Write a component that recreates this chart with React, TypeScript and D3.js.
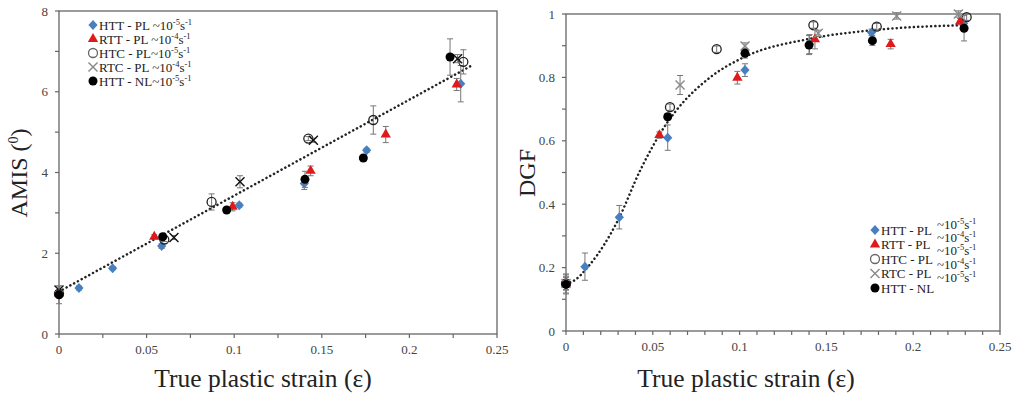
import React from "react";
import * as d3 from "d3";

// ---------- data: left panel (AMIS) ----------
const leftHTT_PL = [[0, 1.0, 0.08], [0.0114, 1.14, 0.05], [0.0306, 1.63, 0.04], [0.0586, 2.18, 0.06], [0.1029, 3.19, 0.05], [0.140, 3.73, 0.15], [0.1756, 4.55, 0.05], [0.2293, 6.20, 0.45]];
const leftRTT_PL = [[0, 1.0, 0.05], [0.0544, 2.41, 0.05], [0.0991, 3.15, 0.1], [0.1436, 4.04, 0.12], [0.1865, 4.94, 0.2], [0.227, 6.18, 0.15]];
const leftHTC_PL = [[0, 1.0, 0.05], [0.0601, 2.34, 0.05], [0.0871, 3.27, 0.2], [0.1423, 4.84, 0.05], [0.1794, 5.30, 0.35], [0.2308, 6.74, 0.3]];
const leftRTC_PL = [[0, 1.09, 0.1], [0.0656, 2.39, 0.05], [0.1033, 3.77, 0.15], [0.1452, 4.80, 0.05], [0.2275, 6.82, 0.1]];
const leftHTT_NL = [[0, 0.97, 0.22], [0.0592, 2.41, 0.05], [0.0957, 3.07, 0.05], [0.1404, 3.83, 0.2], [0.1737, 4.36, 0.05], [0.2232, 6.86, 0.45]];
const leftFitX = [0, 0.236];
const leftFitY = [1.05, 6.66];
const leftYTicks = [0, 2, 4, 6, 8];
const leftYMinor = [1, 3, 5, 7];
const leftXTicks = [0, 0.05, 0.1, 0.15, 0.2, 0.25];
const leftXMinor = [0.025, 0.075, 0.125, 0.175, 0.225];

// ---------- data: right panel (DGF) ----------
const rightHTT_PL = [[0, 0.15, 0.03], [0.0109, 0.203, 0.043], [0.0307, 0.359, 0.037], [0.0586, 0.61, 0.04], [0.1031, 0.823, 0.02], [0.1403, 0.905, 0.03], [0.176, 0.942, 0.01], [0.229, 0.97, 0.01]];
const rightRTT_PL = [[0, 0.15, 0.02], [0.0538, 0.618, 0.01], [0.0987, 0.799, 0.02], [0.1434, 0.92, 0.03], [0.187, 0.905, 0.015], [0.227, 0.976, 0.01]];
const rightHTC_PL = [[0, 0.15, 0.02], [0.0599, 0.706, 0.01], [0.0868, 0.889, 0.01], [0.1425, 0.965, 0.01], [0.179, 0.96, 0.01], [0.2308, 0.99, 0.01]];
const rightRTC_PL = [[0, 0.15, 0.02], [0.0657, 0.776, 0.03], [0.1031, 0.899, 0.01], [0.1453, 0.939, 0.01], [0.1905, 0.994, 0.01], [0.226, 1.0, 0.01]];
const rightHTT_NL = [[0, 0.147, 0.03], [0.0586, 0.676, 0.01], [0.1031, 0.876, 0.015], [0.14, 0.902, 0.03], [0.1765, 0.916, 0.015], [0.2293, 0.955, 0.04]];
const rightFitX = [0, 0.0033, 0.0138, 0.03, 0.0426, 0.058, 0.0637, 0.083, 0.103, 0.1406, 0.179, 0.23];
const rightFitY = [0.15, 0.155, 0.21, 0.35, 0.505, 0.655, 0.697, 0.80, 0.865, 0.922, 0.95, 0.965];
const rightYTicks = [0, 0.2, 0.4, 0.6, 0.8, 1];
const rightYMinor = [0.1, 0.3, 0.5, 0.7, 0.9];
const rightXTicks = [0, 0.05, 0.1, 0.15, 0.2, 0.25];
const rightXMinor = d3.range(1, 25).filter((i) => i % 5 !== 0).map((i) => i / 100);

const leftLegend = [
  { kind: "diamond", name: "HTT - PL ~10", e1: "-5", e2: "-1" },
  { kind: "triangle", name: "RTT - PL ~10", e1: "-4", e2: "-1" },
  { kind: "open", name: "HTC - PL~10", e1: "-5", e2: "-1" },
  { kind: "x", name: "RTC - PL ~10", e1: "-4", e2: "-1" },
  { kind: "dot", name: "HTT - NL~10", e1: "-5", e2: "-1" },
];
const rightLegendNames = ["HTT - PL", "RTT - PL", "HTC - PL", "RTC - PL", "HTT - NL"];
const rightLegendRates = ["-5", "-4", "-5", "-4", "-5"];

const BLUE = "#4a7fbf";
const RED = "#e0191b";
const FONT = "'Liberation Serif', 'Times New Roman', serif";

function Marker({ kind, x, y, xColor, openColor }: any) {
  if (kind === "diamond") {
    const w = 4.6, h = 5;
    return <path d={`M${x},${y - h}L${x + w},${y}L${x},${y + h}L${x - w},${y}Z`} fill={BLUE} />;
  }
  if (kind === "triangle") {
    return <path d={d3.symbol(d3.symbolTriangle, 46)() as string} transform={`translate(${x},${y})`} fill={RED} />;
  }
  if (kind === "open") {
    return <circle cx={x} cy={y} r={4.5} fill="none" stroke={openColor || "#222"} strokeWidth={1.3} />;
  }
  if (kind === "x") {
    const s = 4.5;
    return (
      <g stroke={xColor} strokeWidth={1.4}>
        <line x1={x - s} y1={y - s} x2={x + s} y2={y + s} />
        <line x1={x - s} y1={y + s} x2={x + s} y2={y - s} />
      </g>
    );
  }
  return <circle cx={x} cy={y} r={4.5} fill="#000" />;
}

function Series({ data, kind, xs, ys, xColor }: any) {
  return (
    <g>
      {data.map((d: number[], i: number) => {
        const cx = xs(d[0]);
        const top = ys(d[1] + d[2]);
        const bot = ys(d[1] - d[2]);
        return (
          <g key={"e" + i} stroke="#777" strokeWidth={1}>
            <line x1={cx} x2={cx} y1={top} y2={bot} />
            <line x1={cx - 3} x2={cx + 3} y1={top} y2={top} />
            <line x1={cx - 3} x2={cx + 3} y1={bot} y2={bot} />
          </g>
        );
      })}
      {data.map((d: number[], i: number) => (
        <Marker key={"m" + i} kind={kind} x={xs(d[0])} y={ys(d[1])} xColor={xColor} />
      ))}
    </g>
  );
}

function Axes({ xs, ys, xTicks, xMinor, yTicks, yMinor, xFmt, yFmt }: any) {
  const [x0, x1] = xs.range();
  const [y0, y1] = ys.range();
  return (
    <g fontFamily={FONT} fontSize={13} fill="#444">
      <rect x={x0} y={y1} width={x1 - x0} height={y0 - y1} fill="none" stroke="#666" strokeWidth={1.3} />
      {xTicks.concat(xMinor).map((t: number, i: number) => (
        <line key={"xt" + i} x1={xs(t)} x2={xs(t)} y1={y0} y2={y0 + 4} stroke="#666" strokeWidth={1.2} />
      ))}
      {yTicks.concat(yMinor).map((t: number, i: number) => (
        <line key={"yt" + i} x1={x0 - 4} x2={x0} y1={ys(t)} y2={ys(t)} stroke="#666" strokeWidth={1.2} />
      ))}
      {xTicks.map((t: number, i: number) => (
        <text key={"xl" + i} x={xs(t)} y={y0 + 20} textAnchor="middle">{xFmt(t)}</text>
      ))}
      {yTicks.map((t: number, i: number) => (
        <text key={"yl" + i} x={x0 - 11} y={ys(t) + 4.5} textAnchor="end">{yFmt(t)}</text>
      ))}
    </g>
  );
}

export default function App() {
  const xL = d3.scaleLinear([0, 0.25], [59, 497]);
  const yL = d3.scaleLinear([0, 8], [334, 11]);
  const xR = d3.scaleLinear([0, 0.25], [566, 1000]);
  const yR = d3.scaleLinear([0, 1], [331, 14]);
  const fmt = (t: number) => (t === 0 ? "0" : String(+t.toFixed(2)));

  const leftLine = d3.line<number>().x((d, i) => xL(leftFitX[i])).y((d) => yL(d))(leftFitY) as string;
  const rightLine = d3
    .line<number>()
    .x((d, i) => xR(rightFitX[i]))
    .y((d) => yR(d))
    .curve(d3.curveMonotoneX)(rightFitY) as string;

  const dotted = { fill: "none", stroke: "#222", strokeWidth: 2.5, strokeDasharray: "0.1 4.2", strokeLinecap: "round" as const };

  return (
    <div style={{ position: "fixed", left: 0, top: 0 }}>
      <svg width={1017} height={396} style={{ display: "block", background: "#fff" }}>
        {/* Left panel */}
        <Axes xs={xL} ys={yL} xTicks={leftXTicks} xMinor={leftXMinor} yTicks={leftYTicks} yMinor={leftYMinor} xFmt={fmt} yFmt={fmt} />
        <path d={leftLine} {...dotted} />
        <Series data={leftHTT_PL} kind="diamond" xs={xL} ys={yL} />
        <Series data={leftRTT_PL} kind="triangle" xs={xL} ys={yL} />
        <Series data={leftHTC_PL} kind="open" xs={xL} ys={yL} />
        <Series data={leftRTC_PL} kind="x" xs={xL} ys={yL} xColor="#111" />
        <Series data={leftHTT_NL} kind="dot" xs={xL} ys={yL} />
        <g fontFamily={FONT} fontSize={13} fill="#222">
          {leftLegend.map((l, i) => {
            const cy = 25 + i * 14;
            return (
              <g key={i}>
                <Marker kind={l.kind} x={93} y={cy} xColor="#888" openColor="#666" />
                <text x={99} y={cy + 4.5}>
                  {l.name}
                  <tspan fontSize={8.5} dy={-5}>{l.e1}</tspan>
                  <tspan dy={5}>s</tspan>
                  <tspan fontSize={8.5} dy={-5}>{l.e2}</tspan>
                </text>
              </g>
            );
          })}
        </g>
        <text x={263} y={387} textAnchor="middle" fontFamily={FONT} fontSize={25.5} fill="#222">True plastic strain (ε)</text>
        <text transform="translate(27,173) rotate(-90)" textAnchor="middle" fontFamily={FONT} fontSize={24} fill="#222">
          AMIS (<tspan fontSize={14} dy={-9}>0</tspan><tspan dy={9}>)</tspan>
        </text>

        {/* Right panel */}
        <Axes xs={xR} ys={yR} xTicks={rightXTicks} xMinor={rightXMinor} yTicks={rightYTicks} yMinor={rightYMinor} xFmt={fmt} yFmt={fmt} />
        <path d={rightLine} {...dotted} />
        <Series data={rightHTT_PL} kind="diamond" xs={xR} ys={yR} />
        <Series data={rightRTT_PL} kind="triangle" xs={xR} ys={yR} />
        <Series data={rightHTC_PL} kind="open" xs={xR} ys={yR} />
        <Series data={rightRTC_PL} kind="x" xs={xR} ys={yR} xColor="#8a8a8a" />
        <Series data={rightHTT_NL} kind="dot" xs={xR} ys={yR} />
        <g fontFamily={FONT} fontSize={13} fill="#222">
          {rightLegendNames.map((n, i) => {
            const cy = 230 + i * 14.5;
            const kinds = ["diamond", "triangle", "open", "x", "dot"];
            return (
              <g key={i}>
                <Marker kind={kinds[i]} x={875} y={cy} xColor="#8a8a8a" openColor="#666" />
                <text x={881} y={cy + 4.5}>{n}</text>
              </g>
            );
          })}
          {rightLegendRates.map((r, i) => (
            <text key={"r" + i} x={937} y={229 + i * 13.2}>
              ~10
              <tspan fontSize={8.5} dy={-5}>{r}</tspan>
              <tspan dy={5}>s</tspan>
              <tspan fontSize={8.5} dy={-5}>-1</tspan>
            </text>
          ))}
        </g>
        <text x={746} y={387} textAnchor="middle" fontFamily={FONT} fontSize={25.5} fill="#222">True plastic strain (ε)</text>
        <text transform="translate(535,173) rotate(-90)" textAnchor="middle" fontFamily={FONT} fontSize={24} fill="#222">DGF</text>
      </svg>
    </div>
  );
}
